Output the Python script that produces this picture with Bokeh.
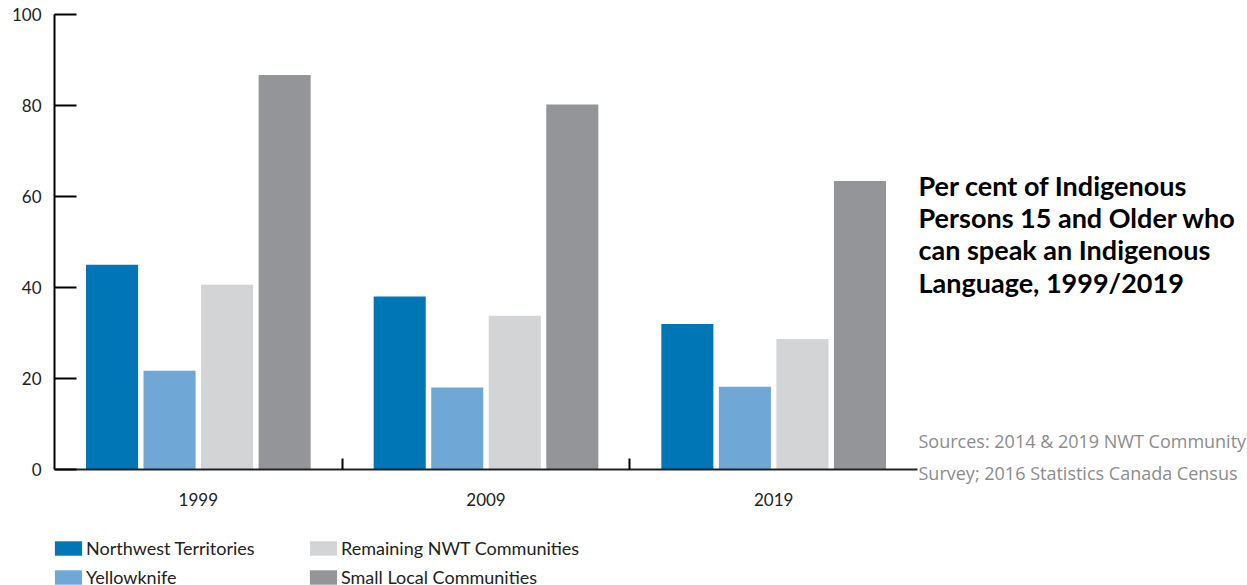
import numpy as np
from bokeh.plotting import figure
from bokeh.models import (ColumnDataSource, FixedTicker, Legend, LegendItem, Label, Range1d)
from bokeh.layouts import row, column
from bokeh.transform import dodge
from bokeh.embed import file_html
from bokeh.resources import INLINE

# ---- data ----
years = ["1999", "2009", "2019"]
series_names = ["Northwest Territories", "Yellowknife", "Remaining NWT Communities", "Small Local Communities"]
nwt = [45.0, 38.0, 32.0]
yellowknife = [21.7, 18.0, 18.2]
remaining = [40.6, 33.8, 28.7]
small_local = [86.7, 80.2, 63.4]
y_ticks = [0, 20, 40, 60, 80, 100]
colors = ["#0076B6", "#6FA8D6", "#D3D4D6", "#949599"]

title_text = "Per cent of Indigenous\nPersons 15 and Older who\ncan speak an Indigenous\nLanguage, 1999/2019"
source_text = "Sources: 2014 & 2019 NWT Community\nSurvey; 2016 Statistics Canada Census"

FONT = "Lato"
TXT = "#222222"

xc = np.arange(len(years)) + 0.5
src = ColumnDataSource(dict(x=xc, nwt=nwt, yk=yellowknife, rem=remaining, small=small_local))
keys = ["nwt", "yk", "rem", "small"]
offsets = [-0.3, -0.1, 0.1, 0.3]

# ---- chart ----
p = figure(width=918, height=525, output_backend="svg", toolbar_location=None,
           x_range=Range1d(0, len(years)), y_range=Range1d(0, 100),
           min_border_left=54, min_border_right=1, min_border_top=14, min_border_bottom=56)
p.outline_line_color = None
p.grid.visible = False

for k, off, c in zip(keys, offsets, colors):
    p.vbar(x=dodge("x", off), top=k, width=0.181, bottom=0, source=src,
           fill_color=c, line_color=None)

xa = p.xaxis[0]
xa.ticker = FixedTicker(ticks=list(xc), minor_ticks=[1, 2])
xa.major_label_overrides = {float(v): y for v, y in zip(xc, years)}
xa.major_tick_line_color = None
xa.major_tick_in = 0
xa.major_tick_out = 0
xa.minor_tick_in = 11
xa.minor_tick_out = 0
xa.minor_tick_line_width = 2
xa.minor_tick_line_color = "black"
xa.axis_line_width = 2
xa.axis_line_color = "#222222"
xa.major_label_standoff = 23
xa.major_label_text_font = FONT
xa.major_label_text_font_size = "17px"
xa.major_label_text_color = TXT

ya = p.yaxis[0]
ya.ticker = FixedTicker(ticks=y_ticks, minor_ticks=[])
ya.major_tick_in = 22
ya.major_tick_out = 0
ya.major_tick_line_width = 2
ya.major_tick_line_color = "black"
ya.axis_line_width = 2
ya.axis_line_color = "black"
ya.minor_tick_line_color = None
ya.major_label_standoff = 13
ya.major_label_text_font = FONT
ya.major_label_text_font_size = "17px"
ya.major_label_text_color = TXT

# ---- title / sources panel ----
pt = figure(width=329, height=525, output_backend="svg", toolbar_location=None,
            x_axis_type=None, y_axis_type=None, x_range=Range1d(0, 1), y_range=Range1d(0, 1),
            min_border=0)
pt.outline_line_color = None
pt.grid.visible = False
try:
    pt.frame_align = False
except Exception:
    pass
pt.add_layout(Label(x=0, y=357, x_units="screen", y_units="screen", text=title_text,
                    text_font=FONT, text_font_style="bold", text_font_size="27px",
                    text_color="black", text_baseline="top", text_line_height=0.98))
pt.add_layout(Label(x=0, y=97, x_units="screen", y_units="screen", text=source_text,
                    text_font="Open Sans", text_font_size="18px",
                    text_color="#8c8c8c", text_baseline="top", text_line_height=1.35))

# ---- legend panel ----
pl = figure(width=1247, height=60, output_backend="svg", toolbar_location=None,
            x_axis_type=None, y_axis_type=None, x_range=Range1d(0, 1), y_range=Range1d(0, 1),
            min_border_left=51, min_border_top=12, min_border_right=0, min_border_bottom=0)
pl.outline_line_color = None
pl.grid.visible = False
try:
    pl.frame_align = False
except Exception:
    pass
items = []
for name, k, c in zip(series_names, keys, colors):
    r = pl.vbar(x="x", top=k, width=0.1, source=src, fill_color=c, line_color=None, visible=False)
    items.append(LegendItem(label=name, renderers=[r]))
leg = Legend(items=items, location="top_left", orientation="vertical", nrows=2,
             glyph_width=34, glyph_height=18, label_height=21, label_width=213,
             label_standoff=1, spacing=7, padding=0, margin=0,
             border_line_color=None, background_fill_alpha=0,
             inactive_fill_alpha=0,
             label_text_font=FONT, label_text_font_size="18px", label_text_color=TXT)
pl.add_layout(leg, "center")

layout = column(row(p, pt), pl)
open("out.html", "w").write(file_html(layout, INLINE))
